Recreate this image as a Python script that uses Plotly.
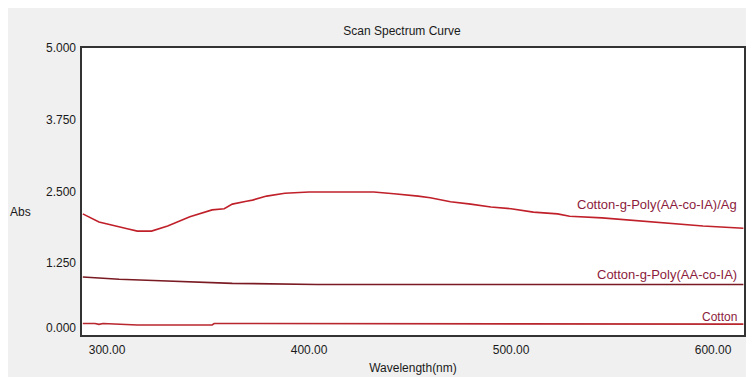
import plotly.graph_objects as go

# Data
wl_ag = [288, 296, 310, 315, 322, 330, 341, 352, 358, 362, 369, 372, 379, 388, 400,
         432, 442, 449, 454, 460, 470, 480, 490, 500, 511, 523, 529, 545, 562, 579, 595, 615]
abs_ag = [2.11, 1.97, 1.85, 1.81, 1.81, 1.90, 2.06, 2.18, 2.20, 2.28, 2.33, 2.35, 2.42, 2.47, 2.49,
          2.49, 2.46, 2.44, 2.42, 2.39, 2.32, 2.28, 2.23, 2.20, 2.14, 2.11, 2.07, 2.04, 1.99, 1.95, 1.90, 1.86]

wl_poly = [288, 296, 306, 323, 345, 362, 404, 615]
abs_poly = [1.01, 0.99, 0.97, 0.95, 0.92, 0.90, 0.88, 0.88]

wl_cotton = [288, 294, 296, 298, 315, 352, 353, 615]
abs_cotton = [0.20, 0.20, 0.185, 0.20, 0.175, 0.175, 0.20, 0.19]

series_names = ["Cotton-g-Poly(AA-co-IA)/Ag", "Cotton-g-Poly(AA-co-IA)", "Cotton"]
series_colors = ["#c0202a", "#7a1a22", "#b8262e"]
label_shift = [14, 0, -2]
label_size = [13, 13, 12]

x_ticks = [300, 400, 500, 600]
x_ticklabels = ["300.00", "400.00", "500.00", "600.00"]
y_ticks = [0, 1.25, 2.5, 3.75, 5.0]
y_ticklabels = ["0.000", "1.250", "2.500", "3.750", "5.000"]

FONT = "Liberation Sans, Arial, sans-serif"
W, H = 746, 369
L, R, T, B = 74, 10, 40, 42
PW, PH = W - L - R, H - T - B

fig = go.Figure()
data = [(wl_ag, abs_ag), (wl_poly, abs_poly), (wl_cotton, abs_cotton)]
for (xs, ys), name, col, sh, fs in zip(data, series_names, series_colors, label_shift, label_size):
    fig.add_trace(go.Scatter(x=xs, y=ys, mode="lines", name=name,
                             line=dict(color=col, width=1.6), showlegend=False))
    fig.add_annotation(x=xs[-1], y=ys[-1], xref="x", yref="y", text=name,
                       showarrow=False, xanchor="right", yanchor="bottom", yshift=sh, xshift=-4,
                       font=dict(family=FONT, size=fs, color="#8c1c3c"))

# y tick labels (the lowest one sits just above the axis, as in the reference)
for v, t in zip(y_ticks, y_ticklabels):
    first = v == y_ticks[0]
    fig.add_annotation(x=0, y=v, xref="paper", yref="y", text=t, showarrow=False,
                       xanchor="right", xshift=-4,
                       yanchor="bottom" if first else "middle", yshift=-2 if first else 0,
                       font=dict(family=FONT, size=12, color="#1a1a1a"))

fig.update_layout(
    width=W, height=H,
    margin=dict(l=L, r=R, t=T, b=B, autoexpand=False),
    paper_bgcolor="#f0f0f0", plot_bgcolor="white",
    font=dict(family=FONT, size=12, color="#1a1a1a"),
    title=dict(text="Scan Spectrum Curve", x=394 / W, xanchor="center",
               y=1 - 23 / H, yanchor="middle", font=dict(family=FONT, size=12, color="#1a1a1a")),
)
fig.update_xaxes(range=[287.6, 615.3], tickvals=x_ticks, ticktext=x_ticklabels,
                 showgrid=False, zeroline=False, showline=True, mirror=True,
                 linecolor="#333333", linewidth=1.5, ticks="", ticklen=0, ticklabelstandoff=3,
                 automargin=False,
                 title=dict(text="Wavelength(nm)", standoff=7, font=dict(family=FONT, size=12)))
fig.update_yaxes(range=[0, 5.0], tickvals=y_ticks, showticklabels=False, automargin=False,
                 showgrid=False, zeroline=False, showline=True, mirror=True,
                 linecolor="#333333", linewidth=1.5, ticks="", ticklen=0)

fig.add_annotation(text="Abs", xref="paper", yref="paper", x=-62 / PW, y=(327 - 204) / PH,
                   showarrow=False, xanchor="center", yanchor="middle",
                   font=dict(family=FONT, size=12, color="#1a1a1a"))

fig.write_html("out.html")
